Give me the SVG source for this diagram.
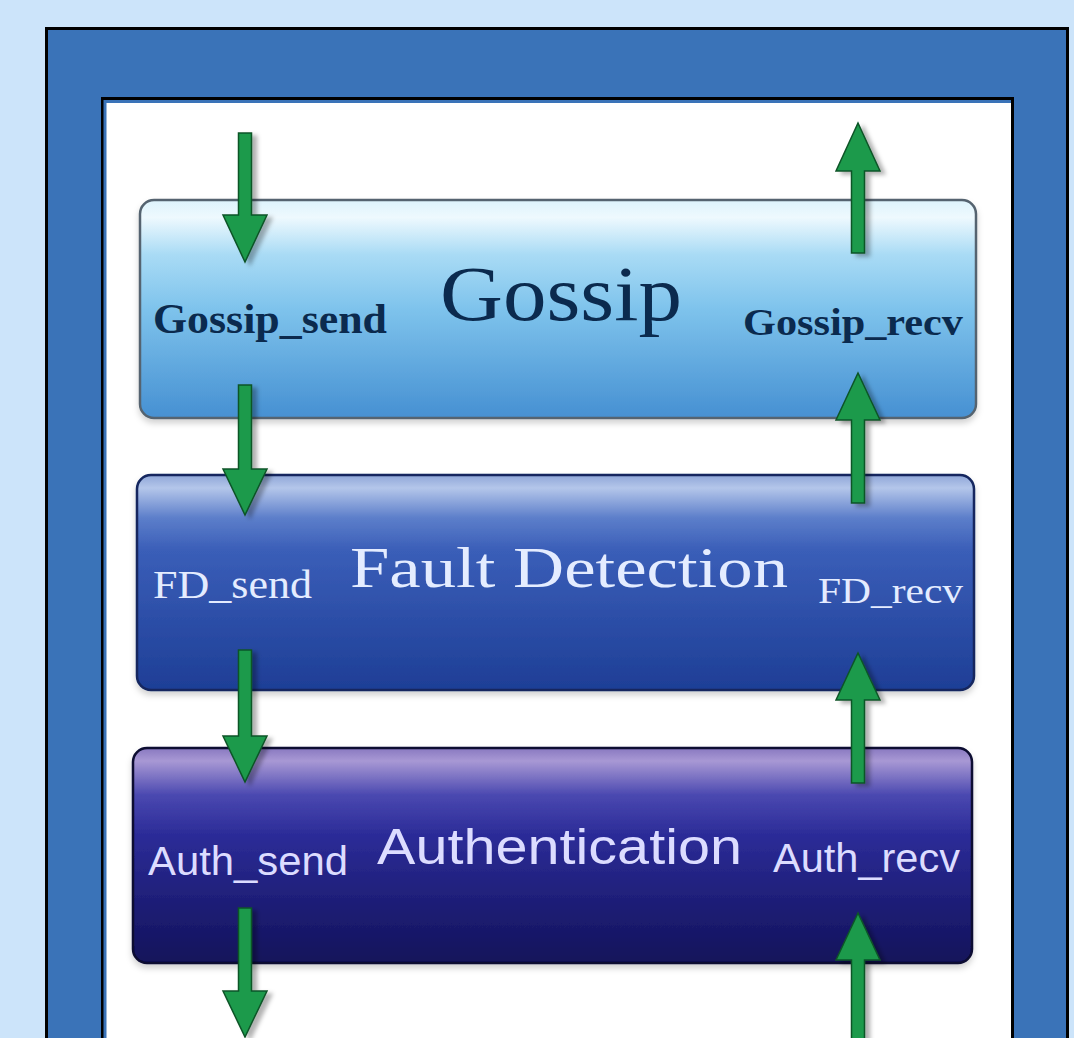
<svg xmlns="http://www.w3.org/2000/svg" width="1074" height="1038" viewBox="0 0 1074 1038">
  <style>
    .serif { font-family: "Liberation Serif", "Times New Roman", serif; }
    .sans { font-family: "Liberation Sans", Arial, sans-serif; }
    .dark { fill: #0B2A4E; }
    .light { fill: #E4ECFF; }
    .lav { fill: #DCDCFF; }
    .arrow { fill: #1C9A4C; stroke: #0C5427; stroke-width: 1.5; stroke-linejoin: miter; filter: url(#shadow); }
    .box { stroke-width: 2.5; filter: url(#boxshadow); }
  </style>
  <defs>
    <linearGradient id="gGossip" x1="0" y1="0" x2="0" y2="1">
      <stop offset="0" stop-color="#DDF3FC"/>
      <stop offset="0.08" stop-color="#EEF9FE"/>
      <stop offset="0.25" stop-color="#A9DBF5"/>
      <stop offset="0.5" stop-color="#7EC3EC"/>
      <stop offset="1" stop-color="#4690D2"/>
    </linearGradient>
    <linearGradient id="gFD" x1="0" y1="0" x2="0" y2="1">
      <stop offset="0" stop-color="#8FA6D8"/>
      <stop offset="0.06" stop-color="#B4C6EA"/>
      <stop offset="0.2" stop-color="#5C7ECA"/>
      <stop offset="0.35" stop-color="#3A5EB8"/>
      <stop offset="1" stop-color="#1E3E96"/>
    </linearGradient>
    <linearGradient id="gAuth" x1="0" y1="0" x2="0" y2="1">
      <stop offset="0" stop-color="#8878C0"/>
      <stop offset="0.06" stop-color="#A898D4"/>
      <stop offset="0.22" stop-color="#4A48B0"/>
      <stop offset="0.4" stop-color="#2C2C98"/>
      <stop offset="1" stop-color="#12125A"/>
    </linearGradient>
    <filter id="shadow" x="-50%" y="-20%" width="200%" height="140%">
      <feDropShadow dx="5" dy="3" stdDeviation="2" flood-color="#000" flood-opacity="0.3"/>
    </filter>
    <filter id="boxshadow" x="-5%" y="-10%" width="110%" height="125%">
      <feDropShadow dx="0" dy="4" stdDeviation="3" flood-color="#000" flood-opacity="0.18"/>
    </filter>
  </defs>

  <rect x="0" y="0" width="1074" height="1038" fill="#CCE4FA"/>
  <rect x="46.5" y="28.5" width="1021" height="1100" fill="#3A73B8" stroke="#000" stroke-width="3"/>
  <rect x="102.5" y="98.5" width="910" height="1000" fill="#FFFFFF" stroke="#000" stroke-width="3"/>
  <polyline points="105,1040 105,101.5 1011,101.5" fill="none" stroke="#3A73B8" stroke-width="3"/>

  <g id="gossip">
    <rect class="box" x="140" y="200" width="836" height="218" rx="14" fill="url(#gGossip)" stroke="#55646F"/>
    <text class="serif dark" x="440" y="320" font-size="78" textLength="242" lengthAdjust="spacingAndGlyphs">Gossip</text>
    <text class="serif dark" x="153" y="333" font-size="42" font-weight="bold" textLength="234" lengthAdjust="spacingAndGlyphs">Gossip_send</text>
    <text class="serif dark" x="743" y="335" font-size="38" font-weight="bold" textLength="220" lengthAdjust="spacingAndGlyphs">Gossip_recv</text>
  </g>

  <g id="fault-detection">
    <rect class="box" x="137" y="475" width="837" height="215" rx="14" fill="url(#gFD)" stroke="#12275E"/>
    <text class="serif light" x="350" y="587" font-size="58" textLength="438" lengthAdjust="spacingAndGlyphs">Fault Detection</text>
    <text class="serif light" x="153" y="598" font-size="40" textLength="159" lengthAdjust="spacingAndGlyphs">FD_send</text>
    <text class="serif light" x="818" y="603" font-size="36" textLength="145" lengthAdjust="spacingAndGlyphs">FD_recv</text>
  </g>

  <g id="authentication">
    <rect class="box" x="133" y="748" width="839" height="215" rx="14" fill="url(#gAuth)" stroke="#0A0A30"/>
    <text class="sans lav" x="377" y="864" font-size="50" textLength="365" lengthAdjust="spacingAndGlyphs">Authentication</text>
    <text class="sans lav" x="148" y="875" font-size="40" textLength="200" lengthAdjust="spacingAndGlyphs">Auth_send</text>
    <text class="sans lav" x="773" y="872" font-size="40" textLength="187" lengthAdjust="spacingAndGlyphs">Auth_recv</text>
  </g>

  <g id="connectors">
    <!-- send side (down) -->
    <path class="arrow" d="M238.5,133 L251.5,133 L251.5,215 L267,215 L245,262 L223,215 L238.5,215 Z"/>
    <path class="arrow" d="M238.5,385 L251.5,385 L251.5,469 L267,469 L245,515 L223,469 L238.5,469 Z"/>
    <path class="arrow" d="M238.5,650 L251.5,650 L251.5,736 L267,736 L245,782 L223,736 L238.5,736 Z"/>
    <path class="arrow" d="M238.5,908 L251.5,908 L251.5,991 L267,991 L245,1037 L223,991 L238.5,991 Z"/>
    <!-- recv side (up) -->
    <path class="arrow" d="M851.5,253 L864.5,253 L864.5,171 L880,171 L858,123 L836,171 L851.5,171 Z"/>
    <path class="arrow" d="M851.5,503 L864.5,503 L864.5,420 L880,420 L858,373 L836,420 L851.5,420 Z"/>
    <path class="arrow" d="M851.5,783 L864.5,783 L864.5,700 L880,700 L858,653 L836,700 L851.5,700 Z"/>
    <path class="arrow" d="M851.5,1060 L864.5,1060 L864.5,960 L880,960 L858,913 L836,960 L851.5,960 Z"/>
  </g>
</svg>
